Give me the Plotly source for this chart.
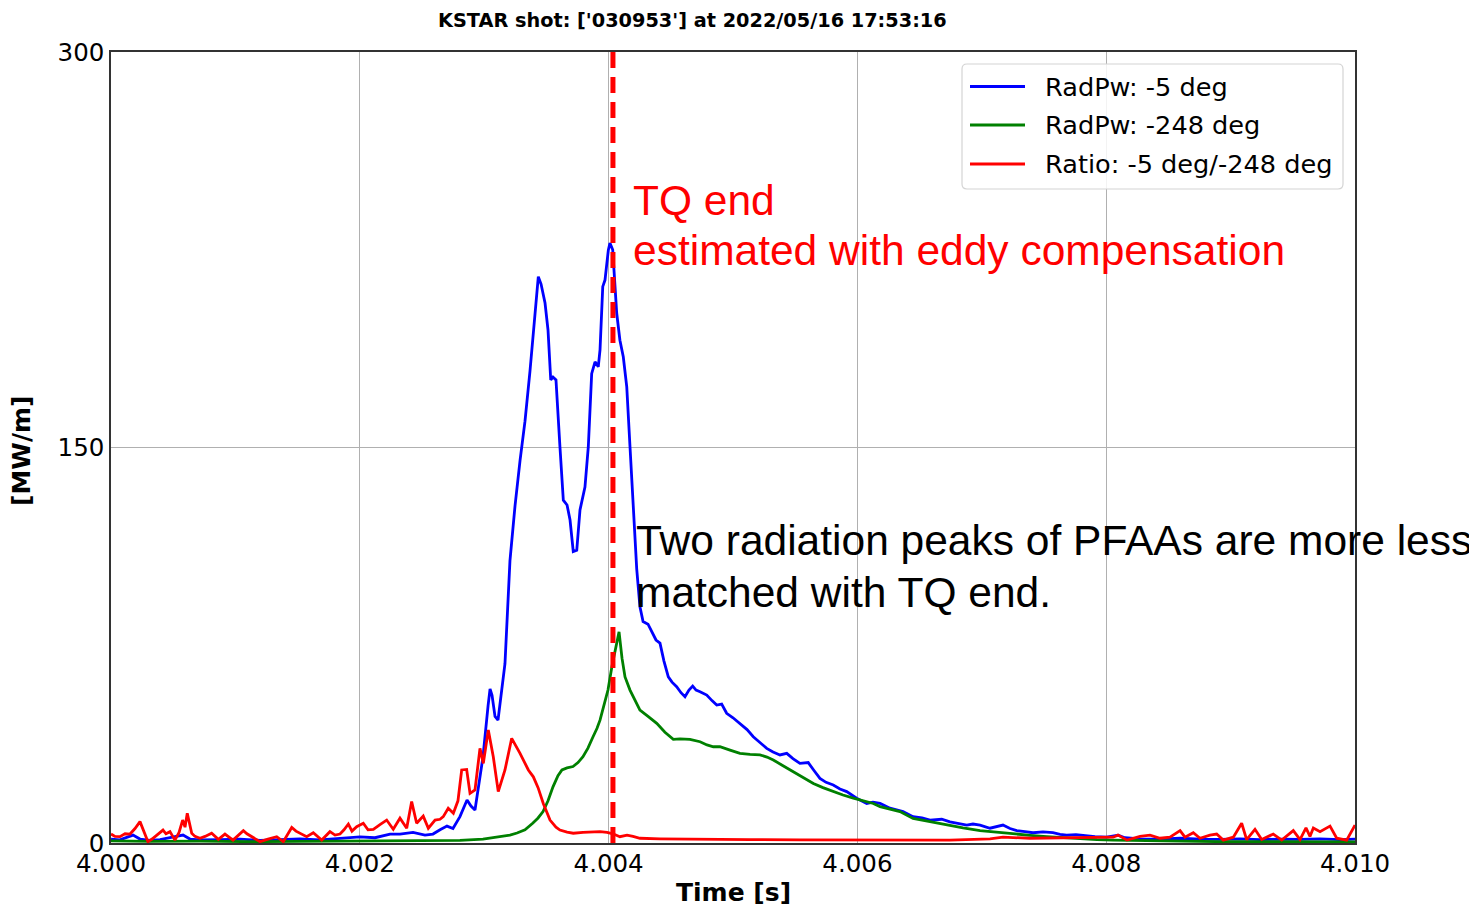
import plotly.graph_objects as go

# ---------------- data ----------------
t_blue = [4.000000, 4.000072, 4.000177, 4.000233, 4.000314, 4.000394, 4.000474, 4.000579, 4.000635, 4.000715,
          4.000876, 4.001037, 4.001198, 4.001359, 4.001519, 4.001680, 4.001841, 4.002002, 4.002122, 4.002243,
          4.002323, 4.002428, 4.002524, 4.002588, 4.002645, 4.002701, 4.002749, 4.002805, 4.002862, 4.002894,
          4.002926, 4.002958, 4.002990, 4.003031, 4.003047, 4.003063, 4.003087, 4.003111, 4.003143, 4.003167,
          4.003207, 4.003248, 4.003288, 4.003328, 4.003368, 4.003400, 4.003435, 4.003457, 4.003489, 4.003513,
          4.003535, 4.003553, 4.003577, 4.003609, 4.003636, 4.003666, 4.003690, 4.003716, 4.003744, 4.003770,
          4.003810, 4.003837, 4.003864, 4.003891, 4.003917, 4.003931, 4.003953, 4.003971, 4.003998, 4.004011,
          4.004033, 4.004065, 4.004091, 4.004118, 4.004146, 4.004172, 4.004199, 4.004226, 4.004252, 4.004277,
          4.004317, 4.004349, 4.004381, 4.004413, 4.004445, 4.004480, 4.004510, 4.004547, 4.004582, 4.004614,
          4.004646, 4.004676, 4.004703, 4.004735, 4.004789, 4.004831, 4.004869, 4.004909, 4.004949, 4.005000,
          4.005056, 4.005113, 4.005163, 4.005217, 4.005271, 4.005322, 4.005378, 4.005432, 4.005482, 4.005538,
          4.005605, 4.005651, 4.005699, 4.005748, 4.005806, 4.005860, 4.005914, 4.005994, 4.006075, 4.006125,
          4.006182, 4.006262, 4.006367, 4.006447, 4.006519, 4.006584, 4.006678, 4.006744, 4.006798, 4.006879,
          4.006929, 4.006986, 4.007066, 4.007170, 4.007227, 4.007281, 4.007347, 4.007412, 4.007492, 4.007572,
          4.007629, 4.007682, 4.007757, 4.007843, 4.007910, 4.008004, 4.008095, 4.008151, 4.008272, 4.008433,
          4.008594, 4.008754, 4.008915, 4.009076, 4.009236, 4.009397, 4.009557, 4.009718, 4.009879, 4.010000]
radpw_m5 = [1.5, 1.2, 3.0, 1.5, 1.0, 1.3, 2.0, 3.0, 1.5, 1.2,
            1.3, 1.5, 1.0, 1.3, 1.6, 1.2, 1.8, 2.3, 2.0, 3.4,
            3.4, 4.0, 3.0, 3.4, 5.0, 6.4, 5.5, 10.0, 16.3, 14.0,
            12.5, 22.0, 32.6, 52.0, 58.4, 56.0, 48.0, 46.6, 58.0, 68.0,
            107.0, 128.0, 145.0, 160.0, 179.0, 195.0, 214.8, 212.0, 204.8, 194.5,
            175.6, 176.7, 175.6, 150.2, 130.0, 128.2, 122.5, 110.5, 111.0, 126.3,
            135.0, 150.3, 178.0, 182.5, 180.6, 187.0, 211.0, 213.5, 224.9, 227.5,
            225.0, 201.0, 190.7, 184.4, 173.0, 150.3, 125.0, 104.0, 89.6, 84.0,
            83.0, 80.0, 77.0, 75.8, 69.0, 63.0, 61.0, 59.3, 57.0, 55.5,
            58.0, 59.5, 58.0, 57.4, 56.1, 54.0, 52.3, 52.7, 49.2, 47.5,
            45.4, 43.0, 40.3, 38.0, 35.9, 34.5, 33.4, 34.0, 32.0, 30.2,
            30.5, 27.5, 24.5, 23.0, 22.0, 20.5, 19.5, 17.0, 15.0, 15.5,
            15.0, 13.2, 11.9, 10.0, 9.5, 8.7, 9.0, 8.0, 7.5, 6.8,
            7.2, 6.8, 5.6, 6.8, 5.5, 4.7, 4.3, 3.9, 4.2, 3.9,
            3.3, 3.0, 3.2, 2.6, 2.4, 2.2, 3.0, 2.0, 1.6, 1.5,
            1.8, 1.5, 1.4, 1.6, 1.3, 1.5, 1.4, 1.6, 1.3, 1.5]

t_green = [4.000000, 4.000314, 4.000715, 4.001117, 4.001519, 4.001921, 4.002323, 4.002645, 4.002805, 4.002990,
           4.003127, 4.003207, 4.003264, 4.003328, 4.003392, 4.003433, 4.003473, 4.003513, 4.003553, 4.003593,
           4.003625, 4.003666, 4.003714, 4.003754, 4.003794, 4.003834, 4.003875, 4.003907, 4.003931, 4.003963,
           4.003995, 4.004027, 4.004051, 4.004084, 4.004108, 4.004132, 4.004172, 4.004212, 4.004252, 4.004317,
           4.004387, 4.004453, 4.004520, 4.004574, 4.004654, 4.004735, 4.004791, 4.004842, 4.004895, 4.004976,
           4.005056, 4.005137, 4.005217, 4.005273, 4.005324, 4.005402, 4.005485, 4.005563, 4.005646, 4.005723,
           4.005806, 4.005884, 4.005967, 4.006045, 4.006128, 4.006182, 4.006262, 4.006342, 4.006447, 4.006584,
           4.006718, 4.006849, 4.006986, 4.007122, 4.007251, 4.007387, 4.007522, 4.007653, 4.007790, 4.007926,
           4.008055, 4.008272, 4.008594, 4.008915, 4.009236, 4.009558, 4.010000]
radpw_m248 = [0.8, 0.6, 0.7, 0.5, 0.6, 0.7, 0.8, 0.9, 1.0, 1.5,
              2.4, 3.0, 3.8, 5.0, 7.6, 9.5, 11.9, 16.0, 21.3, 25.5,
              27.7, 28.5, 29.0, 30.5, 32.7, 36.0, 40.3, 43.5, 46.6, 52.0,
              58.0, 67.0, 73.0, 80.1, 70.0, 63.0, 58.0, 54.0, 50.4, 48.0,
              45.4, 42.0, 39.3, 39.5, 39.3, 38.4, 37.2, 36.5, 36.5, 35.2,
              34.0, 33.6, 33.4, 32.6, 31.5, 29.3, 27.0, 24.8, 22.6, 21.0,
              19.5, 18.2, 17.0, 16.0, 15.0, 13.8, 12.8, 11.9, 9.3, 8.0,
              6.8, 5.7, 4.7, 4.0, 3.4, 2.9, 2.4, 2.0, 1.6, 1.3,
              1.1, 0.9, 0.6, 0.5, 0.5, 0.4, 0.4]

t_red = [4.000000, 4.000032, 4.000072, 4.000113, 4.000153, 4.000193, 4.000233, 4.000265, 4.000297, 4.000330,
         4.000367, 4.000418, 4.000442, 4.000474, 4.000514, 4.000547, 4.000576, 4.000595, 4.000613, 4.000649,
         4.000675, 4.000715, 4.000756, 4.000809, 4.000863, 4.000916, 4.000981, 4.001021, 4.001064, 4.001093,
         4.001131, 4.001198, 4.001262, 4.001332, 4.001385, 4.001453, 4.001487, 4.001519, 4.001573, 4.001626,
         4.001694, 4.001760, 4.001801, 4.001841, 4.001873, 4.001908, 4.001937, 4.001975, 4.002028, 4.002066,
         4.002109, 4.002162, 4.002216, 4.002269, 4.002323, 4.002377, 4.002417, 4.002457, 4.002510, 4.002551,
         4.002605, 4.002645, 4.002671, 4.002711, 4.002752, 4.002789, 4.002819, 4.002859, 4.002886, 4.002926,
         4.002966, 4.002993, 4.003033, 4.003073, 4.003113, 4.003167, 4.003221, 4.003288, 4.003355, 4.003395,
         4.003433, 4.003475, 4.003529, 4.003577, 4.003609, 4.003666, 4.003716, 4.003794, 4.003877, 4.003931,
         4.003987, 4.004035, 4.004091, 4.004148, 4.004196, 4.004252, 4.004413, 4.004735, 4.005137, 4.005538,
         4.005941, 4.006342, 4.006744, 4.007066, 4.007170, 4.007387, 4.007629, 4.007870, 4.008004, 4.008055,
         4.008095, 4.008167, 4.008272, 4.008352, 4.008433, 4.008513, 4.008594, 4.008633, 4.008700, 4.008754,
         4.008834, 4.008888, 4.008941, 4.009022, 4.009089, 4.009129, 4.009196, 4.009250, 4.009343, 4.009411,
         4.009504, 4.009558, 4.009606, 4.009638, 4.009665, 4.009719, 4.009799, 4.009853, 4.009933, 4.010000]
ratio = [3.4, 2.5, 2.4, 3.5, 3.4, 5.5, 8.1, 4.0, 0.5, 1.5,
         3.0, 4.9, 3.5, 4.3, 1.1, 4.0, 8.7, 6.0, 11.3, 3.7,
         2.5, 1.8, 2.5, 3.7, 1.4, 3.4, 1.1, 3.0, 4.7, 3.5,
         2.4, 0.5, 1.5, 2.4, 0.5, 5.9, 4.5, 3.7, 2.4, 3.9,
         1.1, 4.3, 3.0, 3.4, 5.0, 7.2, 4.5, 6.2, 7.5, 5.0,
         5.2, 7.0, 8.7, 5.2, 9.4, 5.6, 15.7, 7.5, 10.2, 5.6,
         8.7, 9.0, 10.0, 13.2, 11.3, 16.0, 27.7, 27.9, 18.8, 20.1,
         35.9, 30.2, 42.9, 32.7, 19.5, 27.7, 39.7, 34.0, 27.7, 25.1,
         21.0, 15.0, 8.7, 6.0, 4.9, 4.1, 3.7, 4.0, 4.3, 4.3,
         4.0, 3.5, 2.4, 3.0, 2.5, 1.8, 1.6, 1.4, 1.3, 1.2,
         1.2, 1.1, 1.1, 1.6, 2.2, 1.8, 2.0, 2.0, 2.2, 2.2,
         3.0, 1.1, 2.5, 3.0, 1.8, 2.2, 4.7, 2.2, 3.9, 1.8,
         3.0, 3.4, 1.1, 2.2, 7.5, 1.3, 5.2, 1.3, 3.4, 1.1,
         4.7, 1.3, 5.7, 2.5, 5.7, 4.3, 6.4, 1.8, 1.1, 6.8]

tq_end = 4.004035
series_names = ["RadPw: -5 deg", "RadPw: -248 deg", "Ratio: -5 deg/-248 deg"]
series_colors = ["#0000ff", "#008000", "#ff0000"]
title_text = "KSTAR shot: ['030953'] at 2022/05/16 17:53:16"
x_ticks = [4.000, 4.002, 4.004, 4.006, 4.008, 4.010]
y_ticks = [0, 150, 300]

# ---------------- geometry (page pixels; page body has an 8px margin) ----------------
OFF = 8
PW, PH = 1477, 908
W, H = PW - OFF, PH - OFF
PL, PR, PT, PB = 111, 1355, 52, 843          # plot area in page pixels
L, T = PL - OFF, PT - OFF
R, B = W - (PR - OFF), H - (PB - OFF)


def px_x(p):
    return (p - PL) / (PR - PL)


def px_y(p):
    return (PB - p) / (PB - PT)


fig = go.Figure()
for tx, ty, nm, col in zip([t_blue, t_green, t_red], [radpw_m5, radpw_m248, ratio],
                           series_names, series_colors):
    fig.add_trace(go.Scatter(x=tx, y=ty, mode="lines", name=nm,
                             line=dict(color=col, width=2.8), showlegend=False))

fig.add_shape(type="line", xref="x", yref="paper", x0=tq_end, x1=tq_end, y0=0, y1=1,
              line=dict(color="#ff0000", width=5, dash="16px,9px"), layer="above")

# ---- legend box (matplotlib-like) ----
lx0, lx1, ly0, ly1, rr = 962, 1343, 64, 189, 5
path = (f"M {px_x(lx0 + rr)},{px_y(ly0)} L {px_x(lx1 - rr)},{px_y(ly0)} "
        f"Q {px_x(lx1)},{px_y(ly0)} {px_x(lx1)},{px_y(ly0 + rr)} "
        f"L {px_x(lx1)},{px_y(ly1 - rr)} Q {px_x(lx1)},{px_y(ly1)} {px_x(lx1 - rr)},{px_y(ly1)} "
        f"L {px_x(lx0 + rr)},{px_y(ly1)} Q {px_x(lx0)},{px_y(ly1)} {px_x(lx0)},{px_y(ly1 - rr)} "
        f"L {px_x(lx0)},{px_y(ly0 + rr)} Q {px_x(lx0)},{px_y(ly0)} {px_x(lx0 + rr)},{px_y(ly0)} Z")
fig.add_shape(type="path", path=path, xref="paper", yref="paper",
              fillcolor="rgba(255,255,255,0.85)", line=dict(color="#d4d4d4", width=1.2), layer="above")

dv = "DejaVu Sans"
ar = "Liberation Sans"
ann = []
leg_rows = [86.5, 125, 164]
for nm, col, yy in zip(series_names, series_colors, leg_rows):
    fig.add_shape(type="line", xref="paper", yref="paper",
                  x0=px_x(970), x1=px_x(1025), y0=px_y(yy), y1=px_y(yy),
                  line=dict(color=col, width=2.8), layer="above")
    ann.append(dict(text=nm, x=px_x(1043), y=px_y(yy), xref="paper", yref="paper",
                    showarrow=False, xanchor="left", yanchor="middle",
                    font=dict(family=dv, size=25.6, color="black")))

ann.append(dict(text="<b>" + title_text + "</b>", x=px_x(692), y=px_y(21), xref="paper", yref="paper",
                showarrow=False, xanchor="center", yanchor="middle",
                font=dict(family=dv, size=19.3, color="black")))
ann.append(dict(text="<b>Time [s]</b>", x=px_x(733), y=px_y(892), xref="paper", yref="paper",
                showarrow=False, xanchor="center", yanchor="middle",
                font=dict(family=dv, size=25, color="black")))
ann.append(dict(text="<b>[MW/m]</b>", x=px_x(22), y=px_y(450), xref="paper", yref="paper",
                showarrow=False, xanchor="center", yanchor="middle", textangle=-90,
                font=dict(family=dv, size=25, color="black")))
ann.append(dict(text="TQ end", x=px_x(631), y=px_y(200), xref="paper", yref="paper",
                showarrow=False, xanchor="left", yanchor="middle",
                font=dict(family=ar, size=42.5, color="#ff0000")))
ann.append(dict(text="estimated with eddy compensation", x=px_x(631), y=px_y(251), xref="paper", yref="paper",
                showarrow=False, xanchor="left", yanchor="middle",
                font=dict(family=ar, size=42.5, color="#ff0000")))
ann.append(dict(text="Two radiation peaks of PFAAs are more less", x=px_x(634), y=px_y(540), xref="paper", yref="paper",
                showarrow=False, xanchor="left", yanchor="middle",
                font=dict(family=ar, size=42.5, color="black")))
ann.append(dict(text="matched with TQ end.", x=px_x(634), y=px_y(592), xref="paper", yref="paper",
                showarrow=False, xanchor="left", yanchor="middle",
                font=dict(family=ar, size=42.5, color="black")))

fig.update_layout(
    width=W, height=H,
    margin=dict(l=L, r=R, t=T, b=B, pad=0),
    paper_bgcolor="white", plot_bgcolor="white",
    annotations=ann,
    showlegend=False,
    xaxis=dict(range=[4.0, 4.010], tickvals=x_ticks, tickformat=".3f",
               showgrid=True, gridcolor="#b0b0b0", gridwidth=1,
               showline=True, linecolor="#333333", linewidth=1.5, mirror=True,
               ticks="", ticklabelstandoff=-2,
               tickfont=dict(family=dv, size=24.5, color="black"), zeroline=False),
    yaxis=dict(range=[0, 300], tickvals=y_ticks,
               showgrid=True, gridcolor="#b0b0b0", gridwidth=1,
               showline=True, linecolor="#333333", linewidth=1.5, mirror=True,
               ticks="",
               tickfont=dict(family=dv, size=24.5, color="black"), zeroline=False),
)

fig.write_html("out.html")
